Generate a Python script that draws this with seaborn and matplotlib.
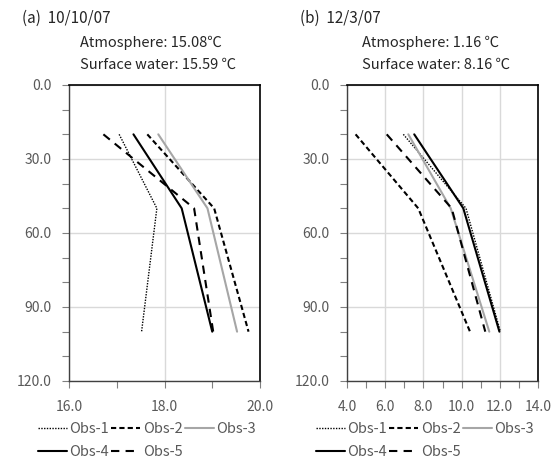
import matplotlib
matplotlib.use("Agg")
import matplotlib.pyplot as plt
import seaborn as sns
import pandas as pd
from matplotlib.ticker import MultipleLocator, FormatStrFormatter

sns.set_style("white")
plt.rcParams['font.family'] = ['Noto Sans CJK KR', 'DejaVu Sans']

depth = [20, 50, 100]
series = ["Obs-1", "Obs-2", "Obs-3", "Obs-4", "Obs-5"]

# Panel (a) 10/10/07 temperatures (°C) at depths 20, 50, 100
a_obs1 = [17.05, 17.84, 17.52]
a_obs2 = [17.64, 19.04, 19.76]
a_obs3 = [17.87, 18.90, 19.52]
a_obs4 = [17.35, 18.36, 19.00]
a_obs5 = [16.72, 18.62, 19.02]

# Panel (b) 12/3/07
b_obs1 = [6.95, 10.23, 12.03]
b_obs2 = [4.45, 7.73, 10.44]
b_obs3 = [7.21, 9.43, 11.45]
b_obs4 = [7.52, 10.09, 11.98]
b_obs5 = [6.08, 9.48, 11.24]

titles = ["(a)  10/10/07", "(b)  12/3/07"]
atmos = ["Atmosphere: 15.08\u2103", "Atmosphere: 1.16 \u2103"]
surf = ["Surface water: 15.59 \u2103", "Surface water: 8.16 \u2103"]

styles = {
    "Obs-1": dict(color="black", linestyle=(0, (1, 1)), linewidth=1.0),
    "Obs-2": dict(color="black", linestyle=(0, (2.5, 1.5)), linewidth=1.5),
    "Obs-3": dict(color="#a6a6a6", linestyle="-", linewidth=1.5),
    "Obs-4": dict(color="black", linestyle="-", linewidth=1.5),
    "Obs-5": dict(color="black", linestyle=(0, (4, 3)), linewidth=1.5),
}

W, H = 557, 463
fig = plt.figure(figsize=(W / 100, H / 100), dpi=100)

def fx(px):
    return px / W

def fy(py):
    return 1 - py / H

panels = [
    dict(data=[a_obs1, a_obs2, a_obs3, a_obs4, a_obs5], xlim=(16, 20), major=2, minor=1,
         left=69, right=260, tx=22, ax_x=80),
    dict(data=[b_obs1, b_obs2, b_obs3, b_obs4, b_obs5], xlim=(4, 14), major=2, minor=1,
         left=347, right=538, tx=300, ax_x=362),
]

top, bottom = 85, 381
grid_c = "#d9d9d9"
tick_c = "#595959"

for i, p in enumerate(panels):
    ax = fig.add_axes([fx(p["left"]), fy(bottom), (p["right"] - p["left"]) / W, (bottom - top) / H])
    rows = []
    for name, vals in zip(series, p["data"]):
        for d, v in zip(depth, vals):
            rows.append(dict(series=name, temp=v, depth=d))
    df = pd.DataFrame(rows)
    for name in series:
        sub = df[df.series == name]
        sns.lineplot(data=sub, x="temp", y="depth", sort=False, estimator=None,
                     ax=ax, label=name, **styles[name])
    ax.set_xlim(*p["xlim"])
    ax.set_ylim(120, 0)
    ax.xaxis.set_major_locator(MultipleLocator(p["major"]))
    ax.xaxis.set_minor_locator(MultipleLocator(p["minor"]))
    ax.yaxis.set_major_locator(MultipleLocator(30))
    ax.yaxis.set_minor_locator(MultipleLocator(10))
    ax.xaxis.set_major_formatter(FormatStrFormatter("%.1f"))
    ax.yaxis.set_major_formatter(FormatStrFormatter("%.1f"))
    ax.grid(True, which="major", color=grid_c, linewidth=1)
    ax.set_axisbelow(True)
    ax.set_xlabel("")
    ax.set_ylabel("")
    ax.tick_params(axis="both", which="both", direction="out", length=5, width=0.8,
                   color="#808080", labelcolor=tick_c, labelsize=10,
                   bottom=True, left=True)
    ax.tick_params(axis="y", which="major", pad=7.5)
    ax.tick_params(axis="x", which="major", pad=9)
    for s in ["top", "right"]:
        ax.spines[s].set_color("black")
        ax.spines[s].set_linewidth(1.2)
    for s in ["left", "bottom"]:
        ax.spines[s].set_color("#404040")
        ax.spines[s].set_linewidth(1.0)
    h, l = ax.get_legend_handles_labels()
    ax.get_legend().remove()
    order = [0, 3, 1, 4, 2]
    ax.legend([h[k] for k in order], [l[k] for k in order], ncol=3,
              loc="upper left",
              bbox_to_anchor=(fx(p["left"] - 31), fy(422)),
              bbox_transform=fig.transFigure,
              frameon=False, fontsize=10.5, handlelength=2.0, handletextpad=0.15,
              columnspacing=0.15, labelspacing=0.65, borderaxespad=0, borderpad=0,
              labelcolor=tick_c)
    fig.text(fx(p["tx"]), fy(18), titles[i], fontsize=11, va="center", ha="left")
    fig.text(fx(p["ax_x"]), fy(43), atmos[i], fontsize=10.5, va="center", ha="left")
    fig.text(fx(p["ax_x"]), fy(65), surf[i], fontsize=10.5, va="center", ha="left")

fig.savefig("out.png", dpi=100)
